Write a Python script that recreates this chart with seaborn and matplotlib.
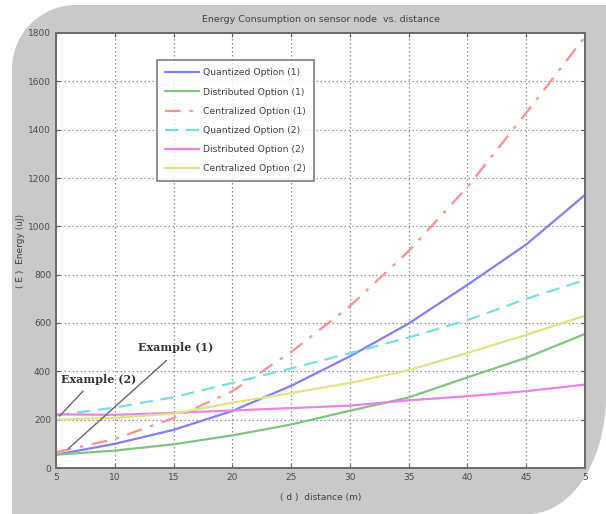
import numpy as np
import pandas as pd
import matplotlib
matplotlib.use("Agg")
import matplotlib.pyplot as plt
from matplotlib.patches import Polygon
import seaborn as sns

# ---------------- data ----------------
distance = [5, 10, 15, 20, 25, 30, 35, 40, 45, 50]
quantized_1 = [55, 100, 158, 236, 340, 462, 598, 758, 925, 1130]
distributed_1 = [55, 72, 98, 135, 180, 237, 292, 375, 456, 555]
centralized_1 = [65, 120, 207, 318, 480, 670, 898, 1163, 1470, 1785]
quantized_2 = [218, 250, 293, 352, 412, 475, 540, 612, 700, 778]
distributed_2 = [222, 220, 228, 238, 248, 258, 280, 297, 318, 345]
centralized_2 = [200, 208, 225, 270, 310, 352, 405, 476, 551, 630]

labels = ["Quantized Option (1)", "Distributed Option (1)", "Centralized Option (1)",
          "Quantized Option (2)", "Distributed Option (2)", "Centralized Option (2)"]
series = [quantized_1, distributed_1, centralized_1, quantized_2, distributed_2, centralized_2]
colors = ["#8080ff", "#80c480", "#ff9090", "#7adede", "#e884e8", "#e2e284"]
styles = ["-", "-", (0, (7, 4, 1.5, 4)), (0, (6, 3.5)), "-", "-"]

xticks = [5, 10, 15, 20, 25, 30, 35, 40, 45, 50]
xticklabels = ["5", "10", "15", "20", "25", "30", "35", "40", "45", "5"]
yticks = [0, 200, 400, 600, 800, 1000, 1200, 1400, 1600, 1800]

# ---------------- figure ----------------
sns.set_style("white")
plt.rcParams["font.family"] = ["DejaVu Sans"]

W, H = 606, 514
fig = plt.figure(figsize=(W / 100, H / 100), dpi=100)
fig.patch.set_facecolor("white")

# grey rounded backdrop (top-left & bottom-right corners rounded)
pts = [(12, 0)]
t = np.linspace(-np.pi / 2, 0, 40)
pts += list(zip(606 - 78 + 78 * np.cos(t), 118 + 118 * np.sin(t)))
pts += [(606, 509)]
t = np.linspace(np.pi / 2, np.pi, 40)
pts += list(zip(76 + 64 * np.cos(t), 509 - 64 + 64 * np.sin(t)))
pts = [(x / W, y / H) for x, y in pts]
fig.patches.append(Polygon(pts, closed=True, transform=fig.transFigure,
                           facecolor="#c9c9c9", edgecolor="none", zorder=-10))

ax = fig.add_axes([56 / W, (H - 468) / H, 529 / W, 435 / H])
ax.set_zorder(5)
ax.set_facecolor("white")

for lab, vals, col, ls in zip(labels, series, colors, styles):
    df = pd.DataFrame({"d": distance, "E": vals})
    sns.lineplot(data=df, x="d", y="E", ax=ax, color=col, linestyle=ls,
                 linewidth=1.6, label=lab)

ax.set_xlim(5, 50)
ax.set_ylim(0, 1800)
ax.set_xticks(xticks)
ax.set_xticklabels(xticklabels)
ax.set_yticks(yticks)
ax.grid(True, color="#909090", linestyle=(0, (1.2, 2.0)), linewidth=0.9)
ax.tick_params(direction="in", length=3, width=0.8, colors="#5a5a5a",
               labelsize=6.5, labelcolor="#4a4a4a", top=True, right=True,
               bottom=True, left=True)
for s in ax.spines.values():
    s.set_color("#6a6a6a")
    s.set_linewidth(1.4)

ax.set_xlabel("( d )  distance (m)", fontsize=6.5, color="#404040", labelpad=8)
ax.set_ylabel("( E )  Energy (uJ)", fontsize=6.5, color="#404040", labelpad=2)
ax.set_title("Energy Consumption on sensor node  vs. distance", fontsize=6.8,
             color="#404040", pad=8)

leg = ax.legend(loc="upper left", bbox_to_anchor=(0.191, 0.937), fontsize=6.7,
                frameon=True, fancybox=False, borderaxespad=0, handlelength=3.7,
                handletextpad=0.4, labelspacing=1.1, borderpad=0.85)
leg.get_frame().set_edgecolor("#6a6a6a")
leg.get_frame().set_linewidth(1.3)
for txt in leg.get_texts():
    txt.set_color("#404040")

# annotations
ax.annotate("Example (1)", xy=(6.05, 80), xytext=(12.0, 497),
            fontsize=8, fontweight="bold", family="DejaVu Serif", color="#333333",
            va="center", ha="left")
ax.annotate("", xy=(6.05, 80), xytext=(14.4, 445),
            arrowprops=dict(arrowstyle="-", color="#666666", lw=1.0,
                            shrinkA=0, shrinkB=0))
ax.annotate("Example (2)", xy=(5.3, 215), xytext=(5.4, 368),
            fontsize=8, fontweight="bold", family="DejaVu Serif", color="#333333",
            va="center", ha="left")
ax.annotate("", xy=(5.3, 215), xytext=(7.3, 318),
            arrowprops=dict(arrowstyle="-", color="#666666", lw=1.0,
                            shrinkA=0, shrinkB=0))

fig.savefig("out.png", dpi=100)
